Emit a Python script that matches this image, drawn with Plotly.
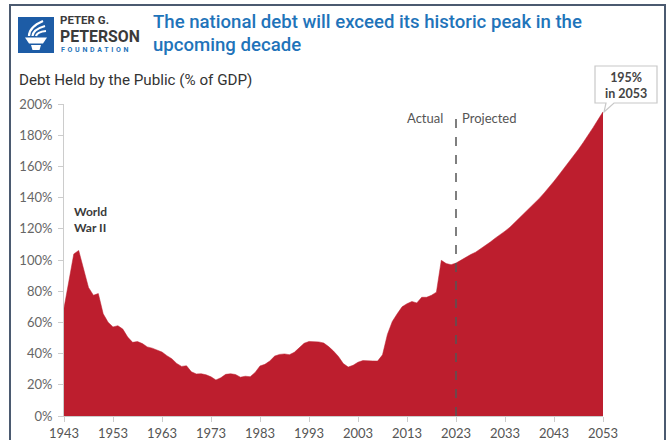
import plotly.graph_objects as go

# ---- data ----
years = list(range(1943, 2054))
debt_pct = [
    # 1943-1952
    69.2, 86.0, 103.9, 106.1, 93.9, 82.4, 77.4, 78.5, 65.5, 60.1,
    # 1953-1962
    57.1, 57.9, 55.7, 50.6, 47.2, 47.7, 46.4, 44.3, 43.5, 42.3,
    # 1963-1972
    41.0, 38.7, 36.7, 33.7, 31.8, 32.2, 28.3, 27.0, 27.1, 26.4,
    # 1973-1982
    25.1, 23.1, 24.5, 26.7, 27.1, 26.6, 24.9, 25.5, 25.2, 27.9,
    # 1983-1992
    32.1, 33.1, 35.3, 38.4, 39.5, 39.8, 39.3, 40.8, 44.0, 46.6,
    # 1993-2002
    47.8, 47.7, 47.5, 46.8, 44.5, 41.6, 38.2, 33.6, 31.4, 32.5,
    # 2003-2012
    34.5, 35.5, 35.6, 35.3, 35.2, 39.2, 52.3, 60.6, 65.5, 70.0,
    # 2013-2022
    72.0, 73.4, 72.5, 76.1, 76.1, 77.4, 79.4, 99.8, 97.7, 97.0,
    # 2023-2032
    98.0, 100.0, 102.0, 103.5, 105.0, 107.0, 109.5, 111.5, 114.0, 116.0,
    # 2033-2042
    118.5, 121.0, 124.0, 127.0, 130.0, 133.0, 136.0, 139.5, 143.0, 146.5,
    # 2043-2053
    150.5, 154.5, 158.5, 162.5, 166.5, 171.0, 175.5, 180.0, 185.0, 190.0, 195.0,
]
x_ticks = [1943, 1953, 1963, 1973, 1983, 1993, 2003, 2013, 2023, 2033, 2043, 2053]
y_ticks = [0, 20, 40, 60, 80, 100, 120, 140, 160, 180, 200]
y_tick_labels = [f"{v}%" for v in y_ticks]
split_year = 2023
end_value = 195

title_lines = ["The national debt will exceed its historic peak in the", "upcoming decade"]
subtitle = "Debt Held by the Public (% of GDP)"

# ---- layout geometry (pixels) ----
W, H = 669, 440
L, R, T, B = 64, 603, 104, 416
PW, PH = R - L, B - T


def px(x):
    return (x - L) / PW


def py(y):
    return (B - y) / PH


RED = "#bd1e2e"
BLUE = "#1f74ba"

fig = go.Figure()
fig.add_trace(go.Scatter(
    x=years, y=debt_pct, mode="lines", fill="tozeroy",
    fillcolor=RED, line=dict(color=RED, width=0.5),
    hoverinfo="x+y", showlegend=False,
))

shapes = []
# outer frame
shapes.append(dict(type="rect", xref="paper", yref="paper",
                   x0=px(10), x1=px(665), y0=py(450), y1=py(5),
                   line=dict(color="#4b5a70", width=2), fillcolor="rgba(0,0,0,0)", layer="below"))
# dashed split line
shapes.append(dict(type="line", xref="x", yref="y", x0=split_year, x1=split_year,
                   y0=0, y1=end_value, line=dict(color="#555555", width=1.5, dash="dash")))
# callout box with pointer
pts = [(595, 66), (657, 66), (657, 103), (614, 103), (604, 112), (606, 103), (595, 103)]
path = "M " + " L ".join(f"{px(a):.5f},{py(b):.5f}" for a, b in pts) + " Z"
shapes.append(dict(type="path", xref="paper", yref="paper", path=path,
                   fillcolor="white", line=dict(color="#c8c8c8", width=1.2)))
# logo square
shapes.append(dict(type="rect", xref="paper", yref="paper",
                   x0=px(18), x1=px(54), y0=py(53), y1=py(17),
                   fillcolor="#1d5ca6", line=dict(width=0)))


def ppath(cmds):
    out = []
    for c in cmds:
        if isinstance(c, str):
            out.append(c)
        else:
            out.append(f"{px(c[0]):.5f},{py(c[1]):.5f}")
    return " ".join(out)


# torch flames
for (a, b, c) in [((29, 36), (29, 27), (43, 21)), ((32.5, 36), (33, 29.5), (45, 26)), ((36, 36), (37, 32), (46, 31))]:
    shapes.append(dict(type="path", xref="paper", yref="paper",
                       path=ppath(["M", a, "Q", b, c]),
                       line=dict(color="white", width=2.2)))
# bowl
shapes.append(dict(type="path", xref="paper", yref="paper",
                   path=ppath(["M", (25, 37.5), "L", (47, 37.5), "L", (43, 43.5), "L", (29, 43.5), "Z"]),
                   fillcolor="white", line=dict(width=0)))
# stem
shapes.append(dict(type="path", xref="paper", yref="paper",
                   path=ppath(["M", (31, 45), "L", (41, 45), "L", (39.5, 50), "L", (32.5, 50), "Z"]),
                   fillcolor="white", line=dict(width=0)))

ann = []
FONT = "Lato"
# logo text
ann.append(dict(text="PETER G.", x=px(58.5), y=py(20), xanchor="left", yanchor="middle",
                font=dict(family="Roboto", size=11.5, color="#3a3a3a", weight=700)))
ann.append(dict(text="PETERSON", x=px(58.5), y=py(36), xanchor="left", yanchor="middle",
                font=dict(family="Roboto", size=15.8, color="#3a3a3a", weight=700)))
ann.append(dict(text='<span style="letter-spacing:2.7px">FOUNDATION</span>', x=px(60), y=py(49.8),
                xanchor="left", yanchor="middle",
                font=dict(family="Roboto", size=7, color=BLUE, weight=700)))
# title
ann.append(dict(text=title_lines[0], x=px(152), y=py(22), xanchor="left", yanchor="middle",
                font=dict(family="Roboto", size=18.6, color=BLUE, weight=500)))
ann.append(dict(text=title_lines[1], x=px(152), y=py(45), xanchor="left", yanchor="middle",
                font=dict(family="Roboto", size=18.6, color=BLUE, weight=500)))
# subtitle
ann.append(dict(text=subtitle, x=px(18), y=py(80), xanchor="left", yanchor="middle",
                font=dict(family="Roboto", size=15.2, color="#333333")))
# WWII
ann.append(dict(text="<b>World</b><br><b>War II</b>", x=1944.8, y=126, xref="x", yref="y",
                xanchor="left", yanchor="middle", align="left",
                font=dict(family=FONT, size=12, color="#3a3a3a")))
# Actual / Projected
ann.append(dict(text="Actual", x=px(444), y=py(118), xanchor="right", yanchor="middle",
                font=dict(family=FONT, size=13, color="#555555")))
ann.append(dict(text="Projected", x=px(461), y=py(118), xanchor="left", yanchor="middle",
                font=dict(family=FONT, size=13, color="#555555")))
# callout text
ann.append(dict(text=f"<b>{end_value}%</b><br><b>in {years[-1]}</b>", x=px(626), y=py(85),
                xanchor="center", yanchor="middle", align="center",
                font=dict(family=FONT, size=12.5, color="#444444")))
for a in ann:
    a.setdefault("xref", "paper")
    a.setdefault("yref", "paper")
    a["showarrow"] = False
    a["borderpad"] = 0

fig.update_layout(
    width=W, height=H,
    margin=dict(l=L, r=W - R, t=T, b=H - B, pad=0, autoexpand=False),
    paper_bgcolor="white", plot_bgcolor="white",
    shapes=shapes, annotations=ann,
    showlegend=False,
    xaxis=dict(range=[1943, 2053], tickvals=x_ticks, ticktext=[str(v) for v in x_ticks],
               automargin=False,
               showgrid=False, zeroline=False, showline=True, linecolor="#cccccc", linewidth=1,
               ticks="outside", ticklen=5, tickcolor="#cccccc",
               tickfont=dict(family=FONT, size=13, color="#555555")),
    yaxis=dict(range=[0, 200], tickvals=y_ticks, ticktext=y_tick_labels,
               automargin=False,
               showgrid=False, zeroline=False, showline=True, linecolor="#cccccc", linewidth=1,
               ticks="outside", ticklen=5, tickcolor="#cccccc", ticklabelstandoff=3,
               tickfont=dict(family=FONT, size=13, color="#666666")),
)

fig.write_html("out.html")
